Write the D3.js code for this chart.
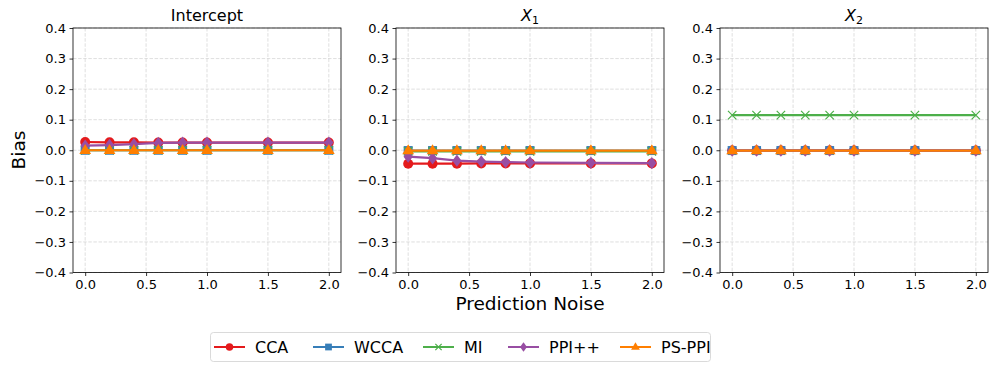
<!DOCTYPE html>
<html>
<head>
<meta charset="utf-8">
<script src="https://cdn.jsdelivr.net/npm/d3@7"></script>
<style>
  body { margin:0; background:#fff; }
  text { font-family: "DejaVu Sans", sans-serif; fill:#000; }
</style>
</head>
<body>
<svg id="chart" width="996" height="370"></svg>
<script>
// prediction noise levels
var noise = [0.0, 0.2, 0.4, 0.6, 0.8, 1.0, 1.5, 2.0];

var methods = ["CCA", "WCCA", "MI", "PPI++", "PS-PPI"];
var colors = ["#e41a1c", "#377eb8", "#4daf4a", "#984ea3", "#ff7f00"];
var shapes = ["circle", "square", "cross", "diamond", "triangle"];

var panelTitles = ["Intercept", "X1", "X2"];

// bias values per panel, per method
var interceptCCA  = [0.027, 0.026, 0.026, 0.025, 0.025, 0.025, 0.025, 0.025];
var interceptWCCA = [0.000, 0.000, 0.000, 0.000, 0.000, 0.000, 0.000, 0.000];
var interceptMI   = [0.000, 0.000, 0.000, 0.000, 0.000, 0.000, 0.000, 0.000];
var interceptPPI  = [0.015, 0.017, 0.020, 0.024, 0.025, 0.025, 0.025, 0.025];
var interceptPS   = [0.000, 0.000, 0.000, 0.000, 0.000, 0.000, 0.000, 0.000];

var x1CCA  = [-0.044, -0.044, -0.044, -0.043, -0.043, -0.043, -0.043, -0.043];
var x1WCCA = [-0.001, -0.001, -0.001, -0.001, -0.001, -0.001, -0.001, -0.001];
var x1MI   = [-0.004, -0.004, -0.004, -0.004, -0.004, -0.004, -0.004, -0.004];
var x1PPI  = [-0.021, -0.026, -0.034, -0.037, -0.039, -0.040, -0.041, -0.042];
var x1PS   = [-0.001, -0.001, -0.001, -0.001, -0.001, -0.001, -0.001, -0.001];

var x2CCA  = [-0.001, -0.001, -0.001, -0.001, -0.001, -0.001, -0.001, -0.001];
var x2WCCA = [-0.001, -0.001, -0.001, -0.001, -0.001, -0.001, -0.001, -0.001];
var x2MI   = [0.115, 0.115, 0.115, 0.115, 0.115, 0.115, 0.115, 0.115];
var x2PPI  = [-0.001, -0.001, -0.001, -0.001, -0.001, -0.001, -0.001, -0.001];
var x2PS   = [-0.001, -0.001, -0.001, -0.001, -0.001, -0.001, -0.001, -0.001];

var xTicks = [0.0, 0.5, 1.0, 1.5, 2.0];
var yTicks = [-0.4, -0.3, -0.2, -0.1, 0.0, 0.1, 0.2, 0.3, 0.4];

var panelData = [
  [interceptCCA, interceptWCCA, interceptMI, interceptPPI, interceptPS],
  [x1CCA, x1WCCA, x1MI, x1PPI, x1PS],
  [x2CCA, x2WCCA, x2MI, x2PPI, x2PS]
];

var svg = d3.select("#chart");

var panelLeft = [73, 396, 720];
var panelWidth = 268;
var plotTop = 28, plotBottom = 272.5;

var yScale = d3.scaleLinear().domain([-0.4, 0.4]).range([plotBottom, plotTop]);

var fmt = function(d){ return d3.format(".1f")(d).replace("-", "\u2212"); };

var drawMarker = function(g, shape, color, x, y, s){
  if (shape == "circle") {
    g.append("circle").attr("cx", x).attr("cy", y).attr("r", s*0.5).attr("fill", color);
  } else if (shape == "square") {
    g.append("rect").attr("x", x - s*0.45).attr("y", y - s*0.45)
      .attr("width", s*0.9).attr("height", s*0.9).attr("fill", color);
  } else if (shape == "cross") {
    var r = s*0.42;
    g.append("path").attr("d", "M"+(x-r)+","+(y-r)+"L"+(x+r)+","+(y+r)+"M"+(x-r)+","+(y+r)+"L"+(x+r)+","+(y-r))
      .attr("stroke", color).attr("stroke-width", 1.2).attr("fill", "none");
  } else if (shape == "diamond") {
    var r = s*0.62;
    g.append("path").attr("d", "M"+x+","+(y-r)+"L"+(x+r*0.75)+","+y+"L"+x+","+(y+r)+"L"+(x-r*0.75)+","+y+"Z")
      .attr("fill", color);
  } else if (shape == "triangle") {
    var r = s*0.62;
    g.append("path").attr("d", "M"+x+","+(y-r)+"L"+(x+r*0.95)+","+(y+r*0.6)+"L"+(x-r*0.95)+","+(y+r*0.6)+"Z")
      .attr("fill", color);
  }
};

panelData.forEach(function(series, p){
  var x0 = panelLeft[p];
  var xScale = d3.scaleLinear().domain([-0.1, 2.1]).range([x0, x0 + panelWidth]);
  var g = svg.append("g");

  // grid
  g.selectAll(".gx").data(xTicks).enter().append("line")
    .attr("x1", function(d){ return xScale(d); }).attr("x2", function(d){ return xScale(d); })
    .attr("y1", plotTop).attr("y2", plotBottom)
    .attr("stroke", "#b0b0b0").attr("stroke-opacity", 0.5).attr("stroke-dasharray", "3.5,1.6").attr("stroke-width", 0.8);
  g.selectAll(".gy").data(yTicks).enter().append("line")
    .attr("y1", function(d){ return yScale(d); }).attr("y2", function(d){ return yScale(d); })
    .attr("x1", x0).attr("x2", x0 + panelWidth)
    .attr("stroke", "#b0b0b0").attr("stroke-opacity", 0.5).attr("stroke-dasharray", "3.5,1.6").attr("stroke-width", 0.8);

  // series
  series.forEach(function(vals, m){
    var line = d3.line().x(function(d, i){ return xScale(noise[i]); }).y(function(d){ return yScale(d); });
    g.append("path").datum(vals).attr("d", line)
      .attr("fill", "none").attr("stroke", colors[m]).attr("stroke-width", 2.2);
    vals.forEach(function(v, i){
      drawMarker(g, shapes[m], colors[m], xScale(noise[i]), yScale(v), 10);
    });
  });

  // axes
  var xAxis = d3.axisBottom(xScale).tickValues(xTicks).tickFormat(d3.format(".1f")).tickSize(3.5).tickPadding(3.5);
  var yAxis = d3.axisLeft(yScale).tickValues(yTicks).tickFormat(fmt).tickSize(3.5).tickPadding(3.5);
  var gx = g.append("g").attr("transform", "translate(0," + plotBottom + ")").call(xAxis);
  var gy = g.append("g").attr("transform", "translate(" + x0 + ",0)").call(yAxis);
  [gx, gy].forEach(function(a){
    a.select(".domain").remove();
    a.attr("font-size", 13).attr("font-family", "DejaVu Sans");
    a.selectAll("line").attr("stroke", "#000").attr("stroke-width", 0.8);
  });

  // frame
  g.append("rect").attr("x", x0).attr("y", plotTop).attr("width", panelWidth).attr("height", plotBottom - plotTop)
    .attr("fill", "none").attr("stroke", "#000").attr("stroke-width", 0.8);

  // title
  var t = g.append("text").attr("x", x0 + panelWidth/2).attr("y", plotTop - 7)
    .attr("text-anchor", "middle").style("font-size", "16px");
  if (p == 0) {
    t.text(panelTitles[p]);
  } else {
    t.append("tspan").attr("font-style", "italic").text(panelTitles[p].charAt(0));
    t.append("tspan").attr("font-size", "11px").attr("dy", 3).text(panelTitles[p].charAt(1));
  }
});

// axis labels
svg.append("text").attr("transform", "translate(25,150) rotate(-90)")
  .attr("text-anchor", "middle").style("font-size", "18.5px").text("Bias");
svg.append("text").attr("x", 530).attr("y", 310)
  .attr("text-anchor", "middle").style("font-size", "18.5px").text("Prediction Noise");

// legend
var legend = svg.append("g");
legend.append("rect").attr("x", 210.5).attr("y", 332.5).attr("width", 500).attr("height", 29).attr("rx", 3)
  .attr("fill", "#fff").attr("stroke", "#d0d0d0").attr("stroke-width", 0.8);
var legendX = [214, 313, 423, 508, 620];
methods.forEach(function(name, m){
  var lx = legendX[m], ly = 347;
  legend.append("line").attr("x1", lx).attr("x2", lx + 31).attr("y1", ly).attr("y2", ly)
    .attr("stroke", colors[m]).attr("stroke-width", 2);
  drawMarker(legend, shapes[m], colors[m], lx + 15.5, ly, 7.5);
  legend.append("text").attr("x", lx + 41).attr("y", ly + 5.5).style("font-size", "16px").text(name);
});
</script>
</body>
</html>
